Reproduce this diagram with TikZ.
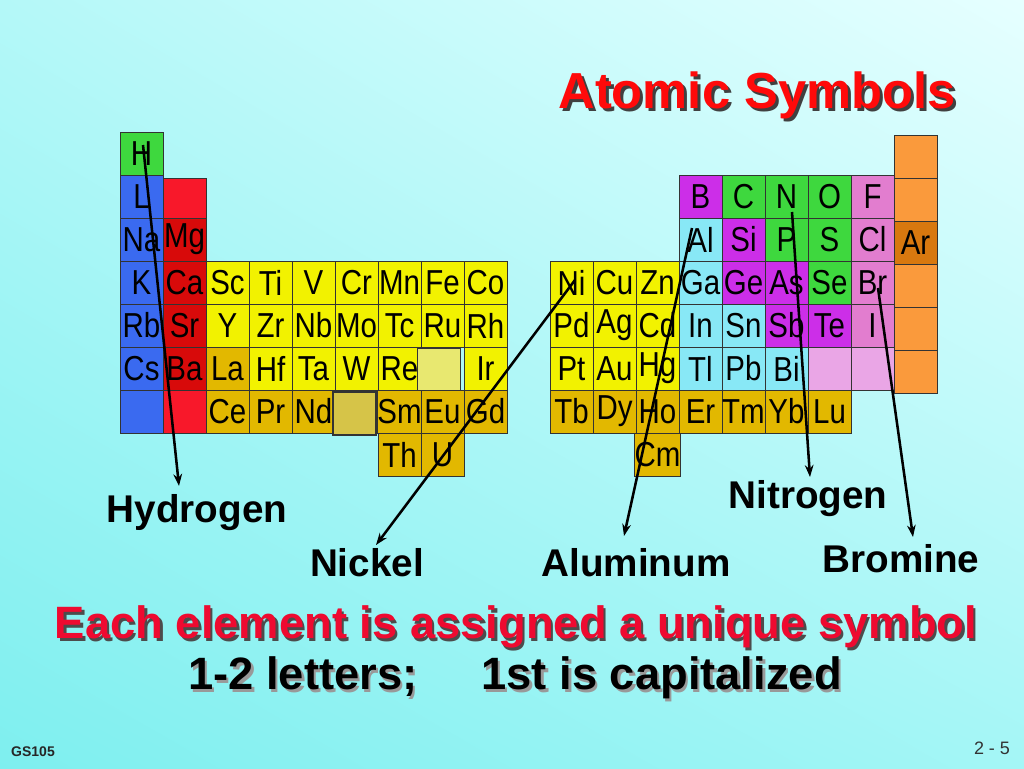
\documentclass[tikz,border=0pt]{standalone}
\usepackage{fontspec}
\setmainfont{Liberation Sans}
\usetikzlibrary{arrows.meta,calc,shadings}
\definecolor{grn}{HTML}{3ED83E}
\definecolor{blu}{HTML}{3A6AF0}
\definecolor{redb}{HTML}{F8182A}
\definecolor{redd}{HTML}{D80A0A}
\definecolor{yel}{HTML}{F2F200}
\definecolor{gold}{HTML}{E2B800}
\definecolor{blankY}{HTML}{E8E870}
\definecolor{blankK}{HTML}{D6C448}
\definecolor{mag}{HTML}{CC2EE8}
\definecolor{pnk}{HTML}{E27DCF}
\definecolor{lpnk}{HTML}{EAA6E6}
\definecolor{cyn}{HTML}{88E8F6}
\definecolor{org}{HTML}{FA9A3C}
\definecolor{dorg}{HTML}{D8780F}
\definecolor{bgUL}{HTML}{B4F8F8}
\definecolor{bgUR}{HTML}{E6FFFF}
\definecolor{bgLL}{HTML}{7EEFEF}
\definecolor{bgLR}{HTML}{A4F6F6}
\definecolor{ttl}{HTML}{FF0A0A}
\definecolor{ered}{HTML}{EE0A30}
\newcommand{\cellfont}{\fontsize{26}{26}\selectfont}
\newcommand{\pl}[5]{\node[cell,fill=#3] (#4) at ({141.5+43*#1},{153.5+43*#2}) {\scalebox{0.85}[1]{#5}};}
\newcommand{\pr}[5]{\node[cell,fill=#3] (#4) at ({571.5+43*#1},{153.5+43*#2}) {\scalebox{0.85}[1]{#5}};}
\tikzset{
  cell/.style={draw=black!80,line width=0.6pt,minimum width=32.25pt,minimum height=32.25pt,inner sep=0pt,font=\cellfont,text=black},
  lbl/.style={font=\fontsize{29}{29}\selectfont\bfseries,text=black,inner sep=0pt},
  arr/.style={line width=1.9pt,-{Stealth[length=9pt,width=6.5pt]}}
}
\begin{document}
\begin{tikzpicture}[x=0.75pt,y=-0.75pt]
\useasboundingbox (0,0) rectangle (1024,768);
\shade[upper left=bgUL,upper right=bgUR,lower left=bgLL,lower right=bgLR] (0,0) rectangle (1024,768);
% left block
\pl{0}{0}{grn}{H}{H}
\pl{0}{1}{blu}{L}{L}
\node[cell,fill=redb] (rb1) at (184.5,199.5) {};
\pl{0}{2}{blu}{Na}{Na}
\pl{1}{2}{redd}{Mg}{Mg}
\pl{0}{3}{blu}{K}{K}
\pl{1}{3}{redd}{Ca}{Ca}
\pl{2}{3}{yel}{Sc}{Sc}
\pl{3}{3}{yel}{Ti}{Ti}
\pl{4}{3}{yel}{V}{V}
\pl{5}{3}{yel}{Cr}{Cr}
\pl{6}{3}{yel}{Mn}{Mn}
\pl{7}{3}{yel}{Fe}{Fe}
\pl{8}{3}{yel}{Co}{Co}
\pl{0}{4}{blu}{Rb}{Rb}
\pl{1}{4}{redd}{Sr}{Sr}
\pl{2}{4}{yel}{Y}{Y}
\pl{3}{4}{yel}{Zr}{Zr}
\pl{4}{4}{yel}{Nb}{Nb}
\pl{5}{4}{yel}{Mo}{Mo}
\pl{6}{4}{yel}{Tc}{Tc}
\pl{7}{4}{yel}{Ru}{Ru}
\pl{8}{4}{yel}{Rh}{Rh}
\pl{0}{5}{blu}{Cs}{Cs}
\pl{1}{5}{redd}{Ba}{Ba}
\pl{2}{5}{gold}{La}{La}
\pl{3}{5}{yel}{Hf}{Hf}
\pl{4}{5}{yel}{Ta}{Ta}
\pl{5}{5}{yel}{W}{W}
\pl{6}{5}{yel}{Re}{Re}
\pl{8}{5}{yel}{Ir}{Ir}
\node[cell,fill=blankY,line width=0.9pt] (by1) at (439,370) {};
\pl{0}{6}{blu}{bb6}{}
\pl{1}{6}{redb}{br6}{}
\pl{2}{6}{gold}{Ce}{Ce}
\pl{3}{6}{gold}{Pr}{Pr}
\pl{4}{6}{gold}{Nd}{Nd}
\node[cell,fill=blankK,line width=0.9pt] (bk1) at (354.5,413.5) {};
\pl{6}{6}{gold}{Sm}{Sm}
\pl{7}{6}{gold}{Eu}{Eu}
\pl{8}{6}{gold}{Gd}{Gd}
\pl{6}{7}{gold}{Th}{Th}
\pl{7}{7}{gold}{U}{U}
% right block
\foreach \r/\nm in {0/o0,1/o1,3/o3,4/o4,5/o5}{
  \node[cell,fill=org] (\nm) at (915.5,{156.5+43*\r}) {};
}
\node[cell,fill=dorg] (Ar) at (915.5,242.5) {\scalebox{0.85}[1]{Ar}};
\pr{3}{1}{mag}{B}{B}
\pr{4}{1}{grn}{C}{C}
\pr{5}{1}{grn}{N}{N}
\pr{6}{1}{grn}{O}{O}
\pr{7}{1}{pnk}{F}{F}
\pr{3}{2}{cyn}{Al}{Al}
\pr{4}{2}{mag}{Si}{Si}
\pr{5}{2}{grn}{P}{P}
\pr{6}{2}{grn}{S}{S}
\pr{7}{2}{pnk}{Cl}{Cl}
\pr{0}{3}{yel}{Ni}{Ni}
\pr{1}{3}{yel}{Cu}{Cu}
\pr{2}{3}{yel}{Zn}{Zn}
\pr{3}{3}{cyn}{Ga}{Ga}
\pr{4}{3}{mag}{Ge}{Ge}
\pr{5}{3}{mag}{As}{As}
\pr{6}{3}{grn}{Se}{Se}
\pr{7}{3}{pnk}{Br}{Br}
\pr{0}{4}{yel}{Pd}{Pd}
\pr{1}{4}{yel}{Ag}{Ag}
\pr{2}{4}{yel}{Cd}{Cd}
\pr{3}{4}{cyn}{In}{In}
\pr{4}{4}{cyn}{Sn}{Sn}
\pr{5}{4}{mag}{Sb}{Sb}
\pr{6}{4}{mag}{Te}{Te}
\pr{7}{4}{pnk}{I}{I}
\pr{0}{5}{yel}{Pt}{Pt}
\pr{1}{5}{yel}{Au}{Au}
\pr{2}{5}{yel}{Hg}{Hg}
\pr{3}{5}{cyn}{Tl}{Tl}
\pr{4}{5}{cyn}{Pb}{Pb}
\pr{5}{5}{cyn}{Bi}{Bi}
\pr{6}{5}{lpnk}{lp1}{}
\pr{7}{5}{lpnk}{lp2}{}
\pr{0}{6}{gold}{Tb}{Tb}
\pr{1}{6}{gold}{Dy}{Dy}
\pr{2}{6}{gold}{Ho}{Ho}
\pr{3}{6}{gold}{Er}{Er}
\pr{4}{6}{gold}{Tm}{Tm}
\pr{5}{6}{gold}{Yb}{Yb}
\pr{6}{6}{gold}{Lu}{Lu}
\pr{2}{7}{gold}{Cm}{Cm}
% labels
\node[lbl] (lH) at (197,513) {Hydrogen};
\node[lbl] (lNi) at (367,563) {Nickel};
\node[lbl] (lAl) at (636,563) {Aluminum};
\node[lbl] (lN) at (808,499) {Nitrogen};
\node[lbl] (lBr) at (901,559) {Bromine};
% arrows
\draw[arr] ($(H.center)+(1.5,-8.5)$) -- ($(lH.center)+(-18,-27)$);
\draw[arr] ($(Ni.center)+(3.5,-2.5)$) -- ($(lNi.center)+(9,-18)$);
\draw[arr] ($(Al.center)+(-8.5,-11.5)$) -- ($(lAl.center)+(-12,-27)$);
\draw[arr] ($(N.center)+(5.5,15.5)$) -- ($(lN.center)+(2,-22)$);
\draw[arr] ($(Br.center)+(5.5,5.5)$) -- ($(lBr.center)+(12,-22)$);
% title and captions (with drop shadows)
\node[font=\fontsize{38}{38}\selectfont\bfseries,text=black!75,inner sep=0pt] (titleS) at (760,98) {Atomic Symbols};
\node[font=\fontsize{38}{38}\selectfont\bfseries,text=ttl,inner sep=0pt] (title) at (757,95) {Atomic Symbols};
\node[font=\fontsize{34}{34}\selectfont\bfseries,text=black!70,inner sep=0pt] (l1S) at (518.5,629.5) {Each element is assigned a unique symbol};
\node[font=\fontsize{34}{34}\selectfont\bfseries,text=ered,inner sep=0pt] (l1) at (516,627) {Each element is assigned a unique symbol};
\node[font=\fontsize{34}{34}\selectfont\bfseries,text=black!40,inner sep=0pt] (l2S) at (517.5,680.5) {1-2 letters;\hspace{48pt}1st is capitalized};
\node[font=\fontsize{34}{34}\selectfont\bfseries,text=black,inner sep=0pt] (l2) at (515,678) {1-2 letters;\hspace{48pt}1st is capitalized};
\node[font=\fontsize{10.5}{10.5}\selectfont\bfseries,text=black!85,inner sep=0pt] (gs) at (33,752) {GS105};
\node[font=\fontsize{13.5}{13.5}\selectfont,text=black!80,inner sep=0pt] (pg) at (992,748) {2 - 5};
\end{tikzpicture}
\end{document}
